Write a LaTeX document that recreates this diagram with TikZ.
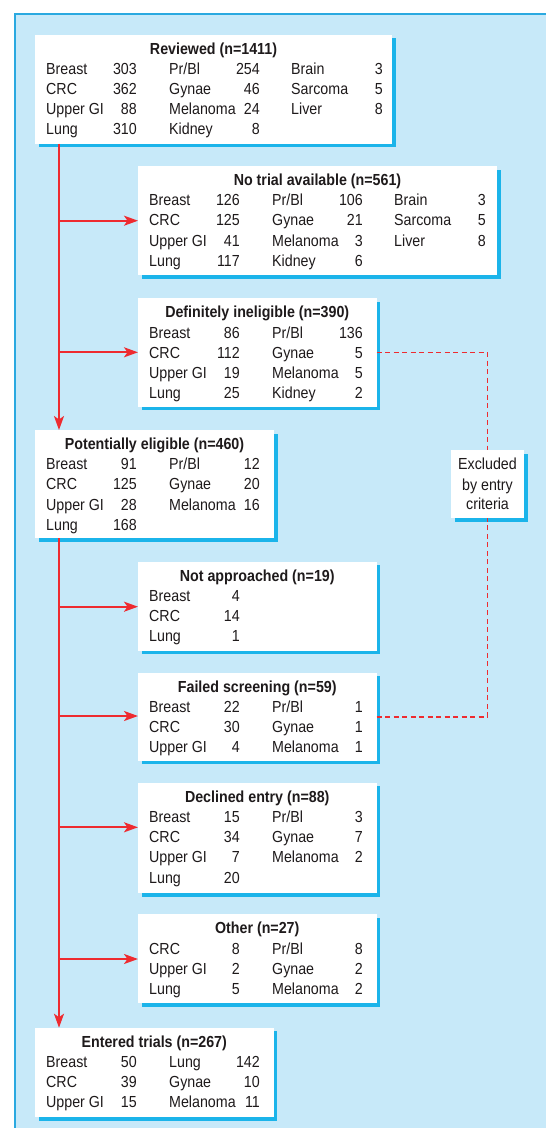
\documentclass[tikz,border=0pt]{standalone}
\usepackage{fontspec}
\setmainfont[FakeStretch=0.89]{Liberation Sans}
\usetikzlibrary{arrows.meta,shadows,calc}
\definecolor{bgc}{HTML}{C7E9F9}
\definecolor{bordc}{HTML}{2AA9E0}
\definecolor{shc}{HTML}{1BB4EA}
\definecolor{redc}{HTML}{EE2B30}
\definecolor{txt}{HTML}{1E1A1B}
\tikzset{
  box/.style={fill=white, draw=none, anchor=north west, inner sep=0pt, outer sep=0pt,
    general shadow={fill=shc, shadow xshift=3.5pt, shadow yshift=-3.5pt}},
  lab/.style={anchor=base west, inner sep=0pt, text=txt, font=\fontsize{16}{19}\selectfont},
  num/.style={anchor=base east, inner sep=0pt, text=txt, font=\fontsize{16}{19}\selectfont},
  ttl/.style={anchor=base, inner sep=0pt, text=txt, font=\fontsize{16}{19}\selectfont\bfseries},
  exc/.style={anchor=base, inner sep=0pt, text=txt, font=\fontsize{16}{19}\selectfont},
  redline/.style={draw=redc, line width=1.9pt},
  arr/.style={redline, -{Stealth[length=14pt,width=10pt,inset=3.5pt]}},
  dashline/.style={draw=redc, line width=1.8pt, dash pattern=on 5pt off 3.5pt},
}
\newcommand\cellX[6]{%
  \node[lab] at ($(#1.north west)+(#3,{19.5+20.2*#2})$) {#5};
  \node[num] at ($(#1.north west)+(#4,{19.5+20.2*#2})$) {#6};}
\newcommand\ca[4]{\cellX{#1}{#2}{11}{102}{#3}{#4}}
\newcommand\cb[4]{\cellX{#1}{#2}{134}{225}{#3}{#4}}
\newcommand\cc[4]{\cellX{#1}{#2}{256}{348}{#3}{#4}}
\newcommand\boxtitle[2]{\node[ttl] at ($(#1.north)+(0,19.5)$) {#2};}
\begin{document}
\begin{tikzpicture}[x=1pt,y=-1pt]
\useasboundingbox (0,0) rectangle (546,1128);
\fill[bgc] (14,13) rectangle (546,1128);
\draw[bordc, line width=1.8pt] (15,1128) -- (15,13.8) -- (546,13.8);

% boxes
\node[box, minimum width=357pt, minimum height=109pt] (rev) at (35,34.5) {};
\node[box, minimum width=359pt, minimum height=109pt] (nt) at (138,166) {};
\node[box, minimum width=238.5pt, minimum height=108.4pt] (di) at (138,298.3) {};
\node[box, minimum width=239pt, minimum height=108.3pt] (pot) at (35,430) {};
\node[box, minimum width=238.5pt, minimum height=89pt] (na) at (138,561.7) {};
\node[box, minimum width=238.5pt, minimum height=88pt] (fs) at (138,672.7) {};
\node[box, minimum width=238.5pt, minimum height=110.6pt] (de) at (138,782.7) {};
\node[box, minimum width=238.5pt, minimum height=89pt] (ot) at (138,914.3) {};
\node[box, minimum width=238.5pt, minimum height=89.6pt] (ent) at (35,1027.7) {};
\node[box, minimum width=73pt, minimum height=68.3pt] (ex) at (451,450) {};

% Reviewed
\boxtitle{rev}{Reviewed (n=1411)}
\ca{rev}{1}{Breast}{303}\cb{rev}{1}{Pr/Bl}{254}\cc{rev}{1}{Brain}{3}
\ca{rev}{2}{CRC}{362}\cb{rev}{2}{Gynae}{46}\cc{rev}{2}{Sarcoma}{5}
\ca{rev}{3}{Upper GI}{88}\cb{rev}{3}{Melanoma}{24}\cc{rev}{3}{Liver}{8}
\ca{rev}{4}{Lung}{310}\cb{rev}{4}{Kidney}{8}

% No trial
\boxtitle{nt}{No trial available (n=561)}
\ca{nt}{1}{Breast}{126}\cb{nt}{1}{Pr/Bl}{106}\cc{nt}{1}{Brain}{3}
\ca{nt}{2}{CRC}{125}\cb{nt}{2}{Gynae}{21}\cc{nt}{2}{Sarcoma}{5}
\ca{nt}{3}{Upper GI}{41}\cb{nt}{3}{Melanoma}{3}\cc{nt}{3}{Liver}{8}
\ca{nt}{4}{Lung}{117}\cb{nt}{4}{Kidney}{6}

% Definitely ineligible
\boxtitle{di}{Definitely ineligible (n=390)}
\ca{di}{1}{Breast}{86}\cb{di}{1}{Pr/Bl}{136}
\ca{di}{2}{CRC}{112}\cb{di}{2}{Gynae}{5}
\ca{di}{3}{Upper GI}{19}\cb{di}{3}{Melanoma}{5}
\ca{di}{4}{Lung}{25}\cb{di}{4}{Kidney}{2}

% Potentially eligible
\boxtitle{pot}{Potentially eligible (n=460)}
\ca{pot}{1}{Breast}{91}\cb{pot}{1}{Pr/Bl}{12}
\ca{pot}{2}{CRC}{125}\cb{pot}{2}{Gynae}{20}
\ca{pot}{3}{Upper GI}{28}\cb{pot}{3}{Melanoma}{16}
\ca{pot}{4}{Lung}{168}

% Not approached
\boxtitle{na}{Not approached (n=19)}
\ca{na}{1}{Breast}{4}
\ca{na}{2}{CRC}{14}
\ca{na}{3}{Lung}{1}

% Failed screening
\boxtitle{fs}{Failed screening (n=59)}
\ca{fs}{1}{Breast}{22}\cb{fs}{1}{Pr/Bl}{1}
\ca{fs}{2}{CRC}{30}\cb{fs}{2}{Gynae}{1}
\ca{fs}{3}{Upper GI}{4}\cb{fs}{3}{Melanoma}{1}

% Declined entry
\boxtitle{de}{Declined entry (n=88)}
\ca{de}{1}{Breast}{15}\cb{de}{1}{Pr/Bl}{3}
\ca{de}{2}{CRC}{34}\cb{de}{2}{Gynae}{7}
\ca{de}{3}{Upper GI}{7}\cb{de}{3}{Melanoma}{2}
\ca{de}{4}{Lung}{20}

% Other
\boxtitle{ot}{Other (n=27)}
\ca{ot}{1}{CRC}{8}\cb{ot}{1}{Pr/Bl}{8}
\ca{ot}{2}{Upper GI}{2}\cb{ot}{2}{Gynae}{2}
\ca{ot}{3}{Lung}{5}\cb{ot}{3}{Melanoma}{2}

% Entered trials
\boxtitle{ent}{Entered trials (n=267)}
\ca{ent}{1}{Breast}{50}\cb{ent}{1}{Lung}{142}
\ca{ent}{2}{CRC}{39}\cb{ent}{2}{Gynae}{10}
\ca{ent}{3}{Upper GI}{15}\cb{ent}{3}{Melanoma}{11}

% Excluded
\node[exc] (ex1) at ($(ex.north)+(0,19.3)$) {Excluded};
\node[exc] (ex2) at ($(ex.north)+(0,40)$) {by entry};
\node[exc] (ex3) at ($(ex.north)+(0,59.3)$) {criteria};

% trunk junctions
\coordinate (jnt) at (59,220.7);
\coordinate (jdi) at (59,352.3);
\coordinate (jna) at (59,606.7);
\coordinate (jfs) at (59,716);
\coordinate (jde) at (59,827.3);
\coordinate (jot) at (59,959);

\draw[arr] (rev.south -| jnt) -- (pot.north -| jnt);
\draw[arr] (pot.south -| jnt) -- (ent.north -| jnt);
\draw[arr] (jnt) -- (jnt -| nt.west);
\draw[arr] (jdi) -- (jdi -| di.west);
\draw[arr] (jna) -- (jna -| na.west);
\draw[arr] (jfs) -- (jfs -| fs.west);
\draw[arr] (jde) -- (jde -| de.west);
\draw[arr] (jot) -- (jot -| ot.west);

\draw[dashline] (di.east) -- (di.east -| ex.north) -- (ex.north);
\draw[dashline] (fs.east) -- (fs.east -| ex.south) -- (ex.south);
\end{tikzpicture}
\end{document}
